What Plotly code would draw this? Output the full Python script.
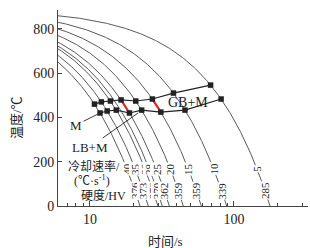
import numpy as np
import plotly.graph_objects as go

# ---- data ----
T0 = 890  # austenitizing start temperature of the cooling lines (°C)
rates = [40, 35, 30, 28, 25, 20, 15, 10, 5]            # cooling rates (°C/s)
rate_labels = ["40", "35", "30", "28", "25", "20", "15", "10", "5"]
hardness = [376, 373, 376, 370, 362, 359, 359, 339, 285]  # HV
trans_rates = [40, 35, 30, 25, 20, 15, 10, 5]
start_T = [460, 470, 474, 479, 474, 483, 510, 546]      # GB start
finish_T = [420, 429, 433, 420, 433, 424, 433, 483]     # transformation finish
red_rates = [25, 15]
x_ticks = [10, 100]
x_minor = [6, 7, 8, 9, 20, 30, 40, 50, 60, 70, 80, 90, 200, 300]
y_ticks = [0, 200, 400, 600, 800]

SERIF = "Liberation Serif, Times New Roman, Noto Sans CJK SC, serif"
CURVE = "#5a5a5a"
INK = "#222222"

fig = go.Figure()

# cooling curves
for r in rates:
    t = np.geomspace(5, T0 / r, 300)
    fig.add_trace(go.Scatter(x=t, y=T0 - r * t, mode="lines",
                             line=dict(color=CURVE, width=1), hoverinfo="skip"))

# red highlighted segments
for r in red_rates:
    i = trans_rates.index(r)
    t1 = (T0 - start_T[i]) / r
    t2 = (T0 - finish_T[i]) / r
    t = np.linspace(t1, t2, 20)
    fig.add_trace(go.Scatter(x=t, y=T0 - r * t, mode="lines",
                             line=dict(color="#d42a2a", width=2.2), hoverinfo="skip"))

# transformation start / finish lines with markers
for temps in (start_T, finish_T):
    ts = [(T0 - T) / r for T, r in zip(temps, trans_rates)]
    fig.add_trace(go.Scatter(x=ts, y=temps, mode="lines+markers",
                             line=dict(color=INK, width=1.2),
                             marker=dict(symbol="square", size=5.5, color=INK),
                             hoverinfo="skip"))

W, H = 310, 248
L, R, T, B = 58, 2, 10, 42
pw, ph = W - L - R, H - T - B

def px(x):
    return (x - L) / pw

def py(y):
    return (T + ph - y) / ph

def txt(x, y, s, size, angle=0):
    return dict(x=px(x), y=py(y), xref="paper", yref="paper", text=s,
                xanchor="center", yanchor="middle", textangle=angle,
                showarrow=False, font=dict(family=SERIF, size=size, color=INK))

ann = []
# labels sitting on the curves
for r, lab, hv in zip(rates, rate_labels, hardness):
    Tr = 168
    ann.append(dict(x=np.log10((T0 - Tr) / r), y=Tr, xref="x", yref="y", text=lab,
                    xanchor="center", yanchor="middle",
                    textangle=-90, showarrow=False, bgcolor="white", borderpad=0,
                    font=dict(family=SERIF, size=11, color=INK)))
    Th = 68
    ann.append(dict(x=np.log10((T0 - Th) / r), y=Th, xref="x", yref="y", text=str(hv),
                    xanchor="center", yanchor="middle",
                    textangle=-90, showarrow=False, bgcolor="white", borderpad=0,
                    font=dict(family=SERIF, size=11, color=INK)))

# region labels with leader lines
for head, off, s in (((100, 113), (-24, 12), "M"), ((138, 113), (-48, 34), "LB+M")):
    ann.append(dict(x=px(head[0]), y=py(head[1]), xref="paper", yref="paper",
                    text=s, showarrow=True, arrowhead=0, arrowwidth=0.9, arrowcolor=INK,
                    axref="pixel", ayref="pixel", ax=off[0], ay=off[1],
                    xanchor="center", yanchor="middle",
                    font=dict(family=SERIF, size=13, color=INK)))
ann.append(txt(188, 102, "GB+M", 14))
ann.append(txt(94, 166, "冷却速率/", 12))
ann.append(txt(92, 180, "(℃·s<sup>-1</sup>)", 12))
ann.append(txt(103, 195, "硬度/HV", 12))
# axis titles
ann.append(txt(165, 241, "时间/s", 13))
ann.append(txt(17, 118, "温度/℃", 13, -90))

fig.update_layout(
    width=W, height=H, margin=dict(l=L, r=R, t=T, b=B),
    paper_bgcolor="white", plot_bgcolor="white", showlegend=False,
    annotations=ann,
    xaxis=dict(type="log", range=[np.log10(6), 2.514], showline=True, linecolor="#444",
               linewidth=1, ticks="inside", ticklen=5, tickcolor="#444",
               tickvals=x_ticks, ticktext=[str(v) for v in x_ticks],
               minor=dict(tickvals=x_minor, ticks="inside", ticklen=3, tickcolor="#444"),
               showgrid=False, zeroline=False,
               tickfont=dict(family=SERIF, size=14, color=INK)),
    yaxis=dict(range=[0, 885], showline=True, linecolor="#444", linewidth=1,
               ticks="inside", ticklen=4, tickcolor="#444", tickvals=y_ticks,
               showgrid=False, zeroline=False,
               tickfont=dict(family=SERIF, size=14, color=INK)),
)

fig.write_html("out.html")
